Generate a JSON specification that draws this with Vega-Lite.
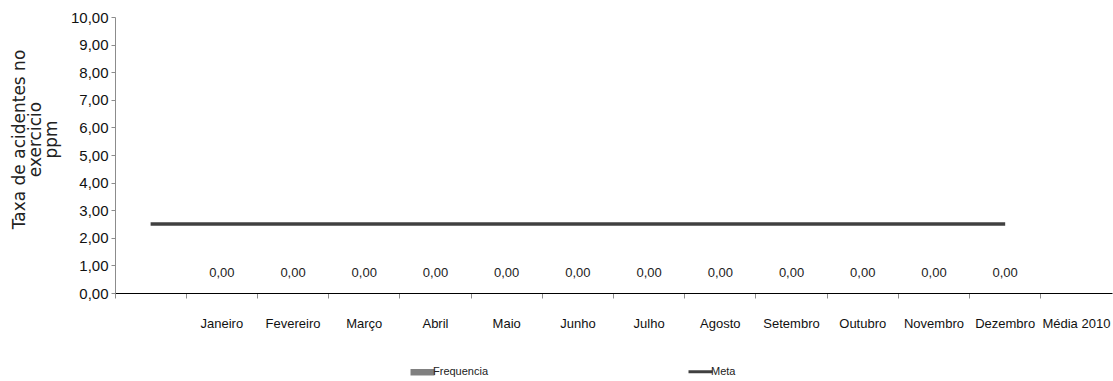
{
  "$schema": "https://vega.github.io/schema/vega-lite/v6.json",
  "width": 997,
  "height": 276,
  "autosize": "none",
  "padding": {"left": 115, "top": 17, "right": 1, "bottom": 88},
  "background": "#ffffff",
  "config": {
    "view": {"stroke": null},
    "locale": {"number": {"decimal": ",", "thousands": ".", "grouping": [3], "currency": ["", ""]}},
    "axis": {"grid": false}
  },
  "data": {
    "values": [
      {"mes": "", "frequencia": null, "meta": 2.5},
      {"mes": "Janeiro", "frequencia": 0, "meta": 2.5},
      {"mes": "Fevereiro", "frequencia": 0, "meta": 2.5},
      {"mes": "Março", "frequencia": 0, "meta": 2.5},
      {"mes": "Abril", "frequencia": 0, "meta": 2.5},
      {"mes": "Maio", "frequencia": 0, "meta": 2.5},
      {"mes": "Junho", "frequencia": 0, "meta": 2.5},
      {"mes": "Julho", "frequencia": 0, "meta": 2.5},
      {"mes": "Agosto", "frequencia": 0, "meta": 2.5},
      {"mes": "Setembro", "frequencia": 0, "meta": 2.5},
      {"mes": "Outubro", "frequencia": 0, "meta": 2.5},
      {"mes": "Novembro", "frequencia": 0, "meta": 2.5},
      {"mes": "Dezembro", "frequencia": 0, "meta": 2.5},
      {"mes": "Média 2010", "frequencia": null, "meta": null}
    ]
  },
  "encoding": {
    "x": {
      "field": "mes",
      "type": "nominal",
      "scale": {
        "domain": ["", "Janeiro", "Fevereiro", "Março", "Abril", "Maio", "Junho", "Julho", "Agosto", "Setembro", "Outubro", "Novembro", "Dezembro", "Média 2010"],
        "paddingInner": 0,
        "paddingOuter": 0
      },
      "axis": {
        "title": null,
        "labelAngle": 0,
        "bandPosition": 0,
        "labelOffset": 0,
        "domainColor": "#000000",
        "domainWidth": 1,
        "tickColor": "#8c8c8c",
        "tickSize": 5,
        "labelPadding": 19,
        "labelFont": "Liberation Sans",
        "labelFontSize": 13,
        "labelColor": "#111111",
        "labelOverlap": false
      }
    }
  },
  "layer": [
    {
      "mark": {"type": "bar", "color": "#808080"},
      "encoding": {
        "y": {
          "field": "frequencia",
          "type": "quantitative",
          "scale": {"domain": [0, 10]},
          "axis": {
            "title": ["Taxa de acidentes no", "exercicio", "ppm"],
            "titleFont": "DejaVu Sans",
            "titleFontSize": 17,
            "titleFontWeight": "normal",
            "titleColor": "#222222",
            "titleLineHeight": 16,
            "titleBaseline": "top",
            "titleX": -104,
            "titleY": 122,
            "values": [0, 1, 2, 3, 4, 5, 6, 7, 8, 9, 10],
            "format": ".2f",
            "labelOverlap": false,
            "domainColor": "#8c8c8c",
            "tickColor": "#8c8c8c",
            "tickSize": 4,
            "labelPadding": 3,
            "labelFont": "Liberation Sans",
            "labelFontSize": 15,
            "labelColor": "#111111"
          }
        },
        "color": {
          "datum": "Frequencia",
          "type": "nominal",
          "scale": {"domain": ["Frequencia", "Meta"], "range": ["#808080", "#404040"]},
          "legend": {
            "title": null,
            "orient": "none",
            "legendX": 302,
            "legendY": 349,
            "direction": "horizontal",
            "columns": 2,
            "columnPadding": 193,
            "symbolSize": 576,
            "labelOffset": 5,
            "labelFont": "Liberation Sans",
            "labelFontSize": 11,
            "labelColor": "#222222",
            "encode": {
              "symbols": {
                "update": {
                  "shape": {"signal": "datum.value === 'Meta' ? 'M-1,0H1' : 'M-1,-0.27H1V0.27H-1Z'"},
                  "fill": {"signal": "datum.value === 'Meta' ? 'transparent' : '#808080'"},
                  "stroke": {"signal": "datum.value === 'Meta' ? '#404040' : 'transparent'"},
                  "strokeWidth": {"signal": "datum.value === 'Meta' ? 3 : 0"}
                }
              }
            }
          }
        }
      }
    },
    {
      "mark": {"type": "line", "strokeWidth": 3.5, "strokeCap": "butt"},
      "encoding": {
        "y": {
          "field": "meta",
          "type": "quantitative",
          "axis": {
            "title": ["Taxa de acidentes no", "exercicio", "ppm"],
            "values": [0, 1, 2, 3, 4, 5, 6, 7, 8, 9, 10],
            "format": ".2f",
            "labelOverlap": false
          }
        },
        "color": {"datum": "Meta", "type": "nominal"}
      }
    },
    {
      "transform": [{"filter": "datum.frequencia != null"}],
      "mark": {"type": "text", "dy": -20, "baseline": "middle", "font": "Liberation Sans", "fontSize": 13, "color": "#222222"},
      "encoding": {
        "y": {
          "field": "frequencia",
          "type": "quantitative",
          "axis": {
            "title": ["Taxa de acidentes no", "exercicio", "ppm"],
            "values": [0, 1, 2, 3, 4, 5, 6, 7, 8, 9, 10],
            "format": ".2f",
            "labelOverlap": false
          }
        },
        "text": {"field": "frequencia", "type": "quantitative", "format": ".2f"}
      }
    }
  ]
}
